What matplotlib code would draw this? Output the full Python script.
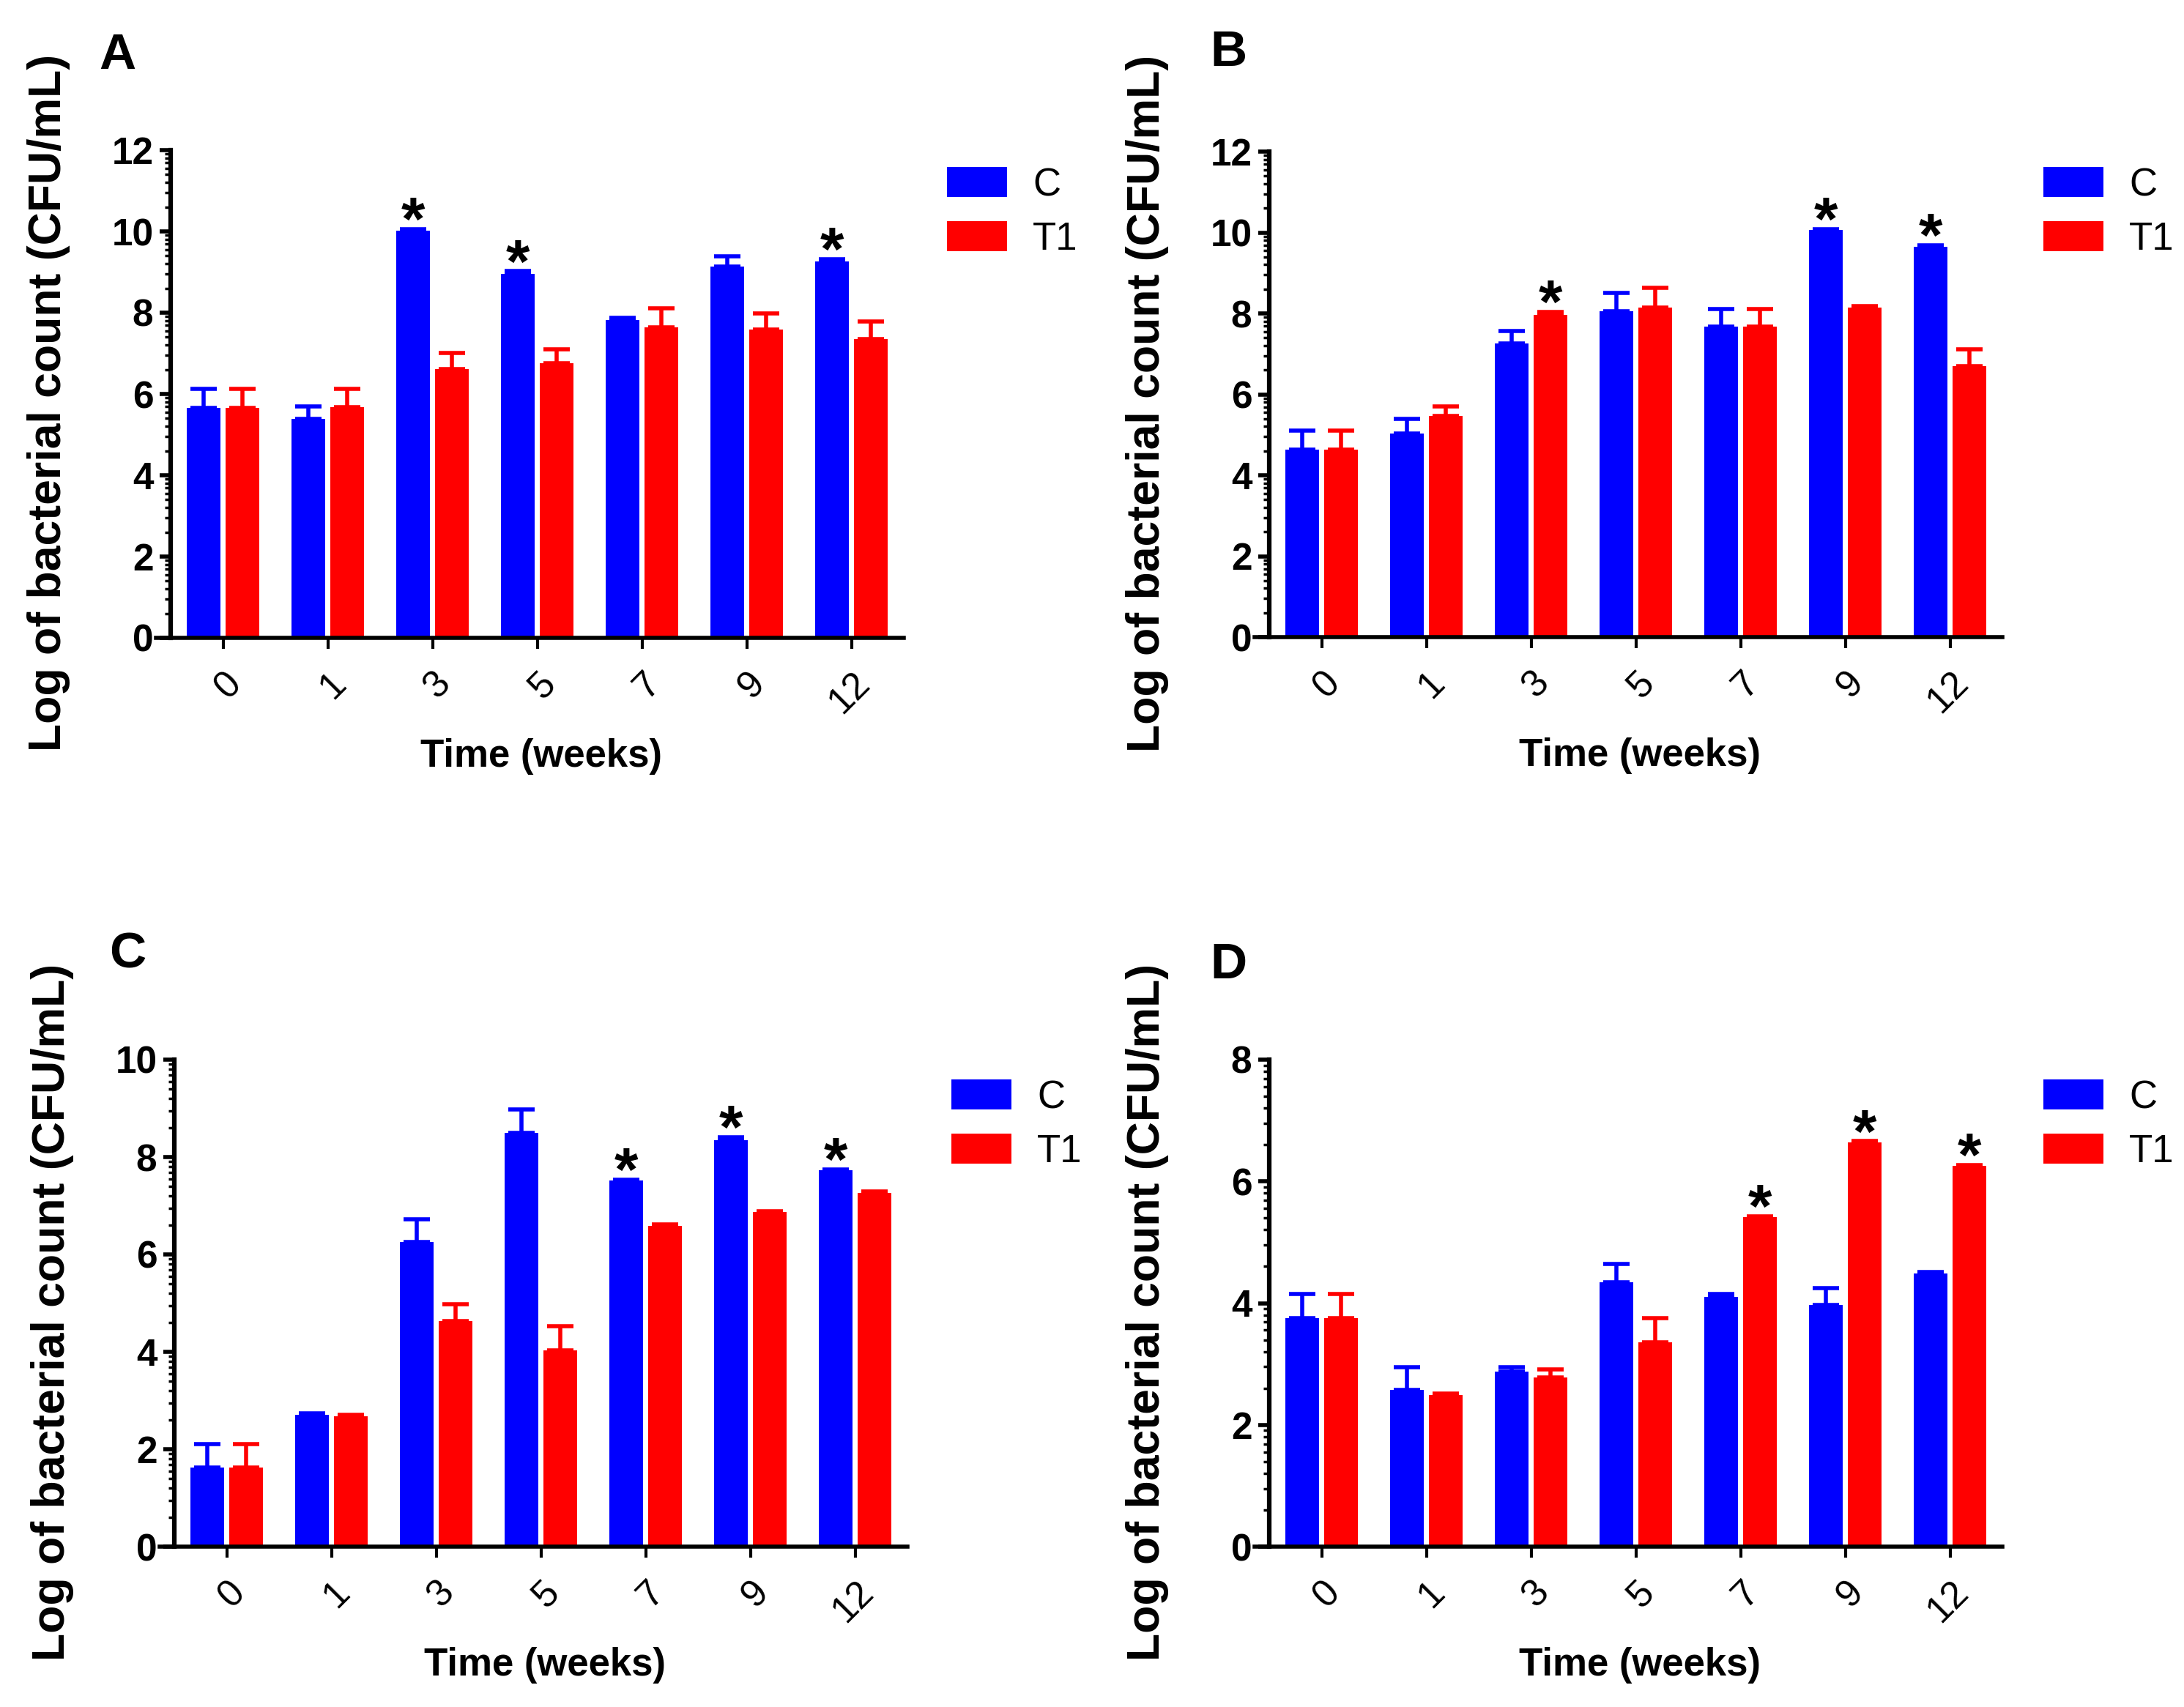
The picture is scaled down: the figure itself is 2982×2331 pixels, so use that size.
import matplotlib
matplotlib.use('Agg')
import matplotlib.pyplot as plt
import numpy as np

plt.rcParams['font.family'] = ['Liberation Sans', 'DejaVu Sans']

W, H = 2982, 2331

weeks = ['0', '1', '3', '5', '7', '9', '12']
series = ['C', 'T1']
colors = ['#0000FF', '#FF0000']

# panel A
a_c = [5.65, 5.38, 10.02, 8.95, 7.82, 9.14, 9.26]
a_c_err = [0.47, 0.32, 0.03, 0.07, 0.05, 0.25, 0.06]
a_t1 = [5.65, 5.67, 6.61, 6.76, 7.64, 7.59, 7.36]
a_t1_err = [0.47, 0.45, 0.40, 0.34, 0.46, 0.39, 0.42]
a_star_c = [2, 3, 6]
a_star_t1 = []

# panel B
b_c = [4.63, 5.04, 7.26, 8.06, 7.67, 10.06, 9.64]
b_c_err = [0.47, 0.36, 0.30, 0.45, 0.43, 0.03, 0.05]
b_t1 = [4.63, 5.46, 7.96, 8.15, 7.67, 8.15, 6.70]
b_t1_err = [0.47, 0.25, 0.07, 0.48, 0.43, 0.03, 0.41]
b_star_c = [5, 6]
b_star_t1 = [2]

# panel C
c_c = [1.63, 2.71, 6.26, 8.49, 7.52, 8.35, 7.73]
c_c_err = [0.48, 0.02, 0.46, 0.49, 0.02, 0.06, 0.02]
c_t1 = [1.63, 2.68, 4.63, 4.03, 6.59, 6.87, 7.27]
c_t1_err = [0.48, 0.02, 0.35, 0.49, 0.03, 0.02, 0.03]
c_star_c = [4, 5, 6]
c_star_t1 = []

# panel D
d_c = [3.75, 2.58, 2.88, 4.34, 4.10, 3.97, 4.49]
d_c_err = [0.40, 0.37, 0.07, 0.30, 0.05, 0.28, 0.02]
d_t1 = [3.75, 2.49, 2.78, 3.36, 5.41, 6.64, 6.25]
d_t1_err = [0.40, 0.02, 0.13, 0.39, 0.02, 0.02, 0.02]
d_star_c = []
d_star_t1 = [4, 5, 6]


fig = plt.figure(figsize=(W / 100, H / 100), dpi=100)


def draw_panel(spine_x, top, bottom, vals, errs, stars, ymax, letter, letter_xy, legend_xy):
    # axes box starts 20 px left of the y spine (x axis overhang)
    left = spine_x - 20
    width = 1021
    ax = fig.add_axes([left / W, 1 - bottom / H, width / W, (bottom - top) / H])
    x = np.arange(len(weeks))
    offsets = [-0.185, 0.185]
    handles = []
    for k in range(2):
        bars = ax.bar(x + offsets[k], vals[k], width=0.32, color=colors[k], label=series[k], zorder=2)
        handles.append(bars)
        ax.errorbar(x + offsets[k], vals[k], yerr=[np.zeros(len(weeks)), errs[k]], fmt='none',
                    ecolor=colors[k], elinewidth=4, capsize=13, capthick=4, zorder=1)
        for i in stars[k]:
            ax.annotate('*', xy=(x[i] + offsets[k], vals[k][i] + errs[k][i]), xytext=(0, -15),
                        textcoords='offset pixels', ha='center', va='baseline',
                        fontsize=60, fontweight='bold')

    ax.set_xlim(-0.64, 6.5)
    ax.set_ylim(0, ymax)
    ax.spines['left'].set_position(('data', -0.5))
    ax.spines['top'].set_visible(False)
    ax.spines['right'].set_visible(False)
    ax.spines['left'].set_linewidth(4.5)
    ax.spines['bottom'].set_linewidth(4)

    major = np.arange(0, ymax + 0.1, 2)
    ax.set_yticks(major)
    minor = []
    for lo in major[:-1]:
        for k in range(2, 10):
            minor.append(lo + 2 * np.log10(k))
    ax.set_yticks(minor, minor=True)
    ax.set_yticklabels([str(int(v)) for v in major], fontsize=37, fontweight='bold')
    ax.tick_params(axis='y', which='major', length=11, width=4, pad=6, direction='out')
    ax.tick_params(axis='y', which='minor', length=6, width=2.5, direction='out')

    ax.set_xticks(x)
    ax.set_xticklabels(weeks, rotation=45, ha='right', rotation_mode='anchor', fontsize=37)
    ax.tick_params(axis='x', which='major', length=11, width=3, pad=16, direction='out')

    fig.text((spine_x + 506) / W, 1 - (bottom + 162) / H, 'Time (weeks)', ha='center', va='center',
             fontsize=38, fontweight='bold')
    fig.text((spine_x - 166) / W, 1 - ((top + bottom) / 2 + 12) / H, 'Log of bacterial count (CFU/mL)',
             ha='center', va='center', rotation=90, fontsize=45, fontweight='bold')
    fig.text(letter_xy[0] / W, 1 - letter_xy[1] / H, letter, ha='center', va='center',
             fontsize=50, fontweight='bold')

    ax.legend(handles, series, loc='upper left', bbox_to_anchor=(legend_xy[0] / W, 1 - legend_xy[1] / H),
              bbox_transform=fig.transFigure, frameon=False, fontsize=38, borderpad=0,
              borderaxespad=0, handlelength=1.55, handleheight=0.81, handletextpad=0.67,
              labelspacing=0.45)
    return ax


draw_panel(233, 205, 871, [a_c, a_t1], [a_c_err, a_t1_err], [a_star_c, a_star_t1], 12,
           'A', (160, 76), (1293, 228))
draw_panel(1733, 207, 870, [b_c, b_t1], [b_c_err, b_t1_err], [b_star_c, b_star_t1], 12,
           'B', (1677, 72), (2790, 228))
draw_panel(238, 1447, 2112, [c_c, c_t1], [c_c_err, c_t1_err], [c_star_c, c_star_t1], 10,
           'C', (174, 1303), (1299, 1474))
draw_panel(1733, 1447, 2112, [d_c, d_t1], [d_c_err, d_t1_err], [d_star_c, d_star_t1], 8,
           'D', (1677, 1318), (2790, 1474))

fig.savefig('out.png', dpi=100)
